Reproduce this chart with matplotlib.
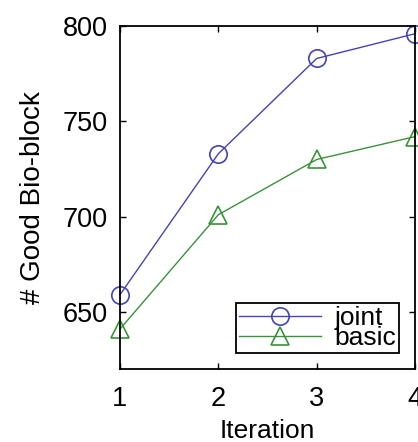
import matplotlib.pyplot as plt

# values
iterations = [1, 2, 3, 4]
joint = [659, 733, 783, 796]
basic = [641, 701, 730, 742]
y_ticks = [650, 700, 750, 800]

plt.rcParams['font.family'] = ['Liberation Sans', 'DejaVu Sans']

fig = plt.figure(figsize=(4.18, 4.42), dpi=100)
ax = fig.add_axes([0.287, 0.165, 0.706, 0.776])

ax.plot(iterations, joint, color='#4444b4', lw=1.0, marker='o', ms=12.5,
        mfc='none', mew=1.2, label='joint', clip_on=False)
ax.plot(iterations, basic, color='#3a923a', lw=1.0, marker='^', ms=13.5,
        mfc='none', mew=1.2, label='basic', clip_on=False)

ax.set_xlim(1, 4)
ax.set_ylim(620, 800)
ax.set_xticks(iterations)
ax.set_yticks(y_ticks)
ax.tick_params(axis='both', direction='in', top=True, right=True,
               labelsize=19.5, length=4, width=1)
ax.tick_params(axis='x', pad=12)
ax.tick_params(axis='y', pad=9)
for s in ax.spines.values():
    s.set_linewidth(1.3)

ax.set_xlabel('Iteration', fontsize=19, labelpad=5)
ax.set_ylabel('# Good Bio-block', fontsize=20, labelpad=12)

leg = ax.legend(loc='lower right', fontsize=19, frameon=True, fancybox=False,
                edgecolor='black', framealpha=1, handlelength=3.1,
                labelspacing=-0.15, borderpad=0.12, handletextpad=0.5,
                borderaxespad=0.6)
leg.get_frame().set_linewidth(1.3)

fig.savefig('out.png', dpi=100)
